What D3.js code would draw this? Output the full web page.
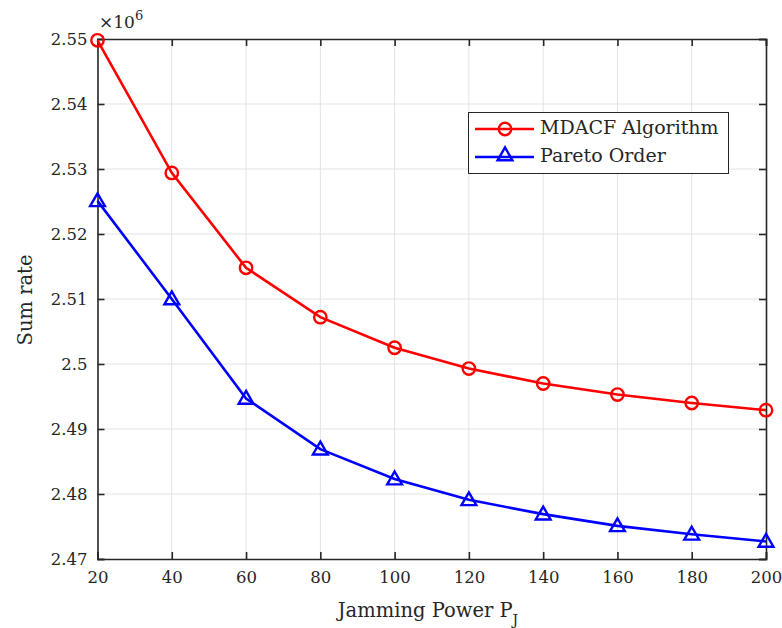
<!DOCTYPE html>
<html>
<head>
<meta charset="utf-8">
<script src="https://cdn.jsdelivr.net/npm/d3@7"></script>
<style>
  html, body { margin: 0; padding: 0; background: #fff; }
  svg { display: block; }
  text { font-family: "DejaVu Serif", "Liberation Serif", serif; fill: #262626; }
</style>
</head>
<body>
<svg id="chart" width="782" height="628"></svg>
<script>
// Jamming power levels (x axis)
const power = [20, 40, 60, 80, 100, 120, 140, 160, 180, 200];
// Sum rate, in units of 10^6
const mdacf  = [2.5498, 2.5294, 2.5148, 2.5072, 2.5025, 2.4993, 2.4970, 2.4953, 2.4940, 2.4929];
const pareto = [2.5251, 2.5100, 2.4947, 2.4869, 2.4823, 2.4791, 2.4769, 2.4751, 2.4738, 2.4727];
const xTicks = [20, 40, 60, 80, 100, 120, 140, 160, 180, 200];
const yTicks = [2.47, 2.48, 2.49, 2.50, 2.51, 2.52, 2.53, 2.54, 2.55];
const seriesNames = ["MDACF Algorithm", "Pareto Order"];

const serif = "DejaVu Serif, Liberation Serif, serif";
const svg = d3.select("#chart");
const plotL = 97.5, plotR = 766, plotT = 39, plotB = 559;

const x = d3.scaleLinear().domain([20, 200]).range([plotL, plotR]);
const y = d3.scaleLinear().domain([2.47, 2.55]).range([plotB, plotT]);

// grid
const grid = svg.append("g").attr("stroke", "#e3e3e3").attr("stroke-width", 1);
grid.selectAll(".gx").data(xTicks.slice(1, -1)).join("line")
  .attr("x1", d => x(d)).attr("x2", d => x(d)).attr("y1", plotT).attr("y2", plotB);
grid.selectAll(".gy").data(yTicks.slice(1, -1)).join("line")
  .attr("y1", d => y(d)).attr("y2", d => y(d)).attr("x1", plotL).attr("x2", plotR);

// axes (ticks inward, box on all sides)
const tickLen = 7;
const fmtY = d => d3.format(".2f")(d).replace(/0$/, "");
const axB = svg.append("g").attr("transform", `translate(0,${plotB})`)
  .call(d3.axisBottom(x).tickValues(xTicks).tickSize(-tickLen).tickPadding(12).tickFormat(d3.format("d")));
const axT = svg.append("g").attr("transform", `translate(0,${plotT})`)
  .call(d3.axisTop(x).tickValues(xTicks).tickSize(-tickLen).tickFormat(""));
const axL = svg.append("g").attr("transform", `translate(${plotL},0)`)
  .call(d3.axisLeft(y).tickValues(yTicks).tickSize(-tickLen).tickPadding(10).tickFormat(fmtY));
const axR = svg.append("g").attr("transform", `translate(${plotR},0)`)
  .call(d3.axisRight(y).tickValues(yTicks).tickSize(-tickLen).tickFormat(""));
[axB, axT, axL, axR].forEach(a => {
  a.attr("font-family", serif).attr("font-size", 16.5);
  a.select(".domain").attr("stroke", "#262626").attr("stroke-width", 1.6);
  a.selectAll(".tick line").attr("stroke", "#262626").attr("stroke-width", 1.6);
  a.selectAll("text").attr("fill", "#262626");
});

// exponent label
const ex = svg.append("text").attr("x", 99).attr("y", 28).attr("font-size", 17);
ex.append("tspan").text("\u00d710");
ex.append("tspan").attr("dy", -8).attr("font-size", 13).text("6");

// axis titles
const xl = svg.append("text").attr("x", 428).attr("y", 617).attr("text-anchor", "middle").attr("font-size", 19.5);
xl.append("tspan").text("Jamming Power P");
xl.append("tspan").attr("dy", 8).attr("font-size", 14).text("J");
svg.append("text").attr("transform", "translate(32,300) rotate(-90)")
  .attr("text-anchor", "middle").attr("font-size", 19.5).text("Sum rate");

// series
const line = d3.line().x((d, i) => x(power[i])).y(d => y(d));
const marks = svg.append("g");
marks.append("path").datum(mdacf).attr("d", line).attr("fill", "none").attr("stroke", "#ff0000").attr("stroke-width", 2.6);
marks.append("path").datum(pareto).attr("d", line).attr("fill", "none").attr("stroke", "#0000ff").attr("stroke-width", 2.6);

const tri = d3.symbol().type(d3.symbolTriangle).size(95);
function circleMark(g, cx, cy) {
  g.append("circle").attr("cx", cx).attr("cy", cy).attr("r", 6.2)
    .attr("fill", "none").attr("stroke", "#ff0000").attr("stroke-width", 2.4);
}
function triMark(g, cx, cy) {
  g.append("path").attr("d", tri()).attr("transform", `translate(${cx},${cy + 1})`)
    .attr("fill", "none").attr("stroke", "#0000ff").attr("stroke-width", 2.4);
}
mdacf.forEach((v, i) => circleMark(marks, x(power[i]), y(v)));
pareto.forEach((v, i) => triMark(marks, x(power[i]), y(v)));

// legend
const lg = svg.append("g");
lg.append("rect").attr("x", 468.5).attr("y", 112.5).attr("width", 260).attr("height", 61)
  .attr("fill", "#fff").attr("stroke", "#262626").attr("stroke-width", 1);
const rows = [129, 157];
lg.append("line").attr("x1", 475).attr("x2", 534).attr("y1", rows[0]).attr("y2", rows[0])
  .attr("stroke", "#ff0000").attr("stroke-width", 2.6);
circleMark(lg, 505, rows[0]);
lg.append("line").attr("x1", 475).attr("x2", 534).attr("y1", rows[1]).attr("y2", rows[1])
  .attr("stroke", "#0000ff").attr("stroke-width", 2.6);
triMark(lg, 505, rows[1] - 2);
seriesNames.forEach((n, i) => {
  lg.append("text").attr("x", 540).attr("y", rows[i] + 5).attr("font-size", 19).text(n);
});
</script>
</body>
</html>
